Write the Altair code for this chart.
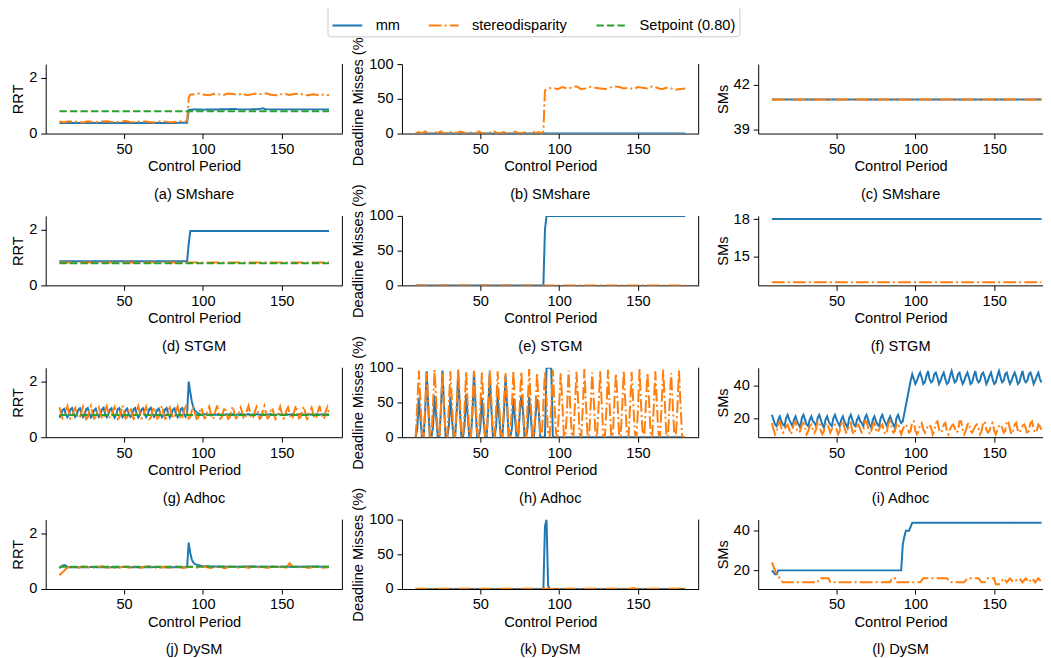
import altair as alt
import pandas as pd

FONT = "Liberation Sans"
FS = 14.7

SERIES = ["mm", "stereodisparity", "Setpoint (0.80)"]
COLORS = ["#1f77b4", "#ff7f0e", "#2ca02c"]
DASHES = [[1, 0], [12.8, 3.2, 2, 3.2], [7.4, 3.2]]

X_TICKS = [50, 100, 150]
XF = list(range(9, 181))  # control periods 9..180

# ---------------- (a) SMshare RRT ----------------
a_mm_x = [9, 20, 30, 40, 50, 60, 70, 80, 90, 91, 95, 100, 110, 118, 120, 122, 130, 136, 138, 140, 150, 160, 170, 180]
a_mm_y = [0.38, 0.38, 0.38, 0.38, 0.38, 0.38, 0.38, 0.38, 0.39, 0.85, 0.87, 0.86, 0.87, 0.88, 0.89, 0.87, 0.87, 0.88, 0.91, 0.87, 0.87, 0.87, 0.87, 0.87]
a_sd_x = [9, 12, 15, 18, 21, 24, 27, 30, 33, 36, 39, 42, 45, 48, 51, 54, 57, 60, 63, 66, 69, 72, 75, 78, 81, 84, 87, 90,
          91, 92,
          95, 98, 101, 104, 107, 110, 113, 116, 119, 122, 125, 128, 131, 134, 137, 140, 143, 146, 149, 152, 155, 158, 161, 164, 167, 170, 173, 176, 180]
a_sd_y = [0.43, 0.41, 0.44, 0.42, 0.43, 0.40, 0.44, 0.42, 0.41, 0.43, 0.44, 0.42, 0.41, 0.43, 0.45, 0.42, 0.41, 0.44, 0.43, 0.42, 0.40, 0.43, 0.44, 0.42, 0.41, 0.43, 0.45, 0.44,
          1.30, 1.40,
          1.42, 1.44, 1.40, 1.38, 1.43, 1.41, 1.39, 1.44, 1.42, 1.40, 1.43, 1.38, 1.41, 1.44, 1.42, 1.45, 1.40, 1.38, 1.41, 1.43, 1.39, 1.42, 1.44, 1.40, 1.38, 1.41, 1.39, 1.40, 1.38]
SET_X = [9, 180]
SET_Y = [0.80, 0.80]

# ---------------- (b) SMshare deadline misses ----------------
b_mm_x = [9, 180]
b_mm_y = [0, 0]
b_sd_x = [9, 11, 13, 15, 17, 19, 21, 23, 25, 27, 29, 31, 33, 35, 37, 39, 41, 43, 45, 47, 49, 51, 53, 55, 57, 59, 61, 63, 65, 67, 69, 71, 73, 75, 77, 79, 81, 83, 85, 87, 89,
          90, 91, 93,
          96, 99, 102, 105, 108, 111, 114, 117, 120, 123, 126, 129, 132, 135, 138, 141, 144, 147, 150, 153, 156, 159, 162, 165, 168, 171, 174, 177, 180]
b_sd_y = [1, 2, 0, 3, 1, 0, 2, 1, 3, 0, 1, 2, 0, 1, 3, 2, 0, 1, 2, 0, 3, 1, 0, 2, 1, 3, 0, 1, 2, 0, 1, 3, 2, 0, 1, 2, 0, 3, 1, 2, 0,
          3, 62, 65,
          66, 64, 67, 65, 66, 68, 64, 65, 67, 66, 65, 64, 66, 68, 67, 65, 66, 64, 67, 66, 65, 68, 66, 64, 66, 65, 63, 64, 65]

# ---------------- (c) SMshare SMs ----------------
c_mm_x = [9, 180]
c_mm_y = [41, 41]
c_sd_x = [9, 180]
c_sd_y = [41, 41]

# ---------------- (d) STGM RRT ----------------
d_mm_x = [9, 90, 91, 92, 180]
d_mm_y = [0.87, 0.87, 1.50, 1.96, 1.96]
d_sd_x = [9, 180]
d_sd_y = [0.82, 0.82]

# ---------------- (e) STGM deadline misses ----------------
e_mm_x = [9, 90, 91, 92, 180]
e_mm_y = [0, 0, 80, 100, 100]
e_sd_x = [9, 180]
e_sd_y = [0, 0]

# ---------------- (f) STGM SMs ----------------
f_mm_x = [9, 180]
f_mm_y = [18, 18]
f_sd_x = [9, 180]
f_sd_y = [13, 13]

# ---------------- (g) Adhoc RRT (x = 9..180) ----------------
g_mm_y = [
    0.70, 0.80, 0.98, 1.02, 0.85,
    0.72, 0.80, 1.00, 1.05, 0.86,
    0.73, 0.82, 0.99, 1.04, 0.84,
    0.72, 0.81, 1.01, 1.05, 0.85,
    0.71, 0.80, 0.97, 1.03, 0.86,
    0.73, 0.82, 1.00, 1.06, 0.84,
    0.72, 0.81, 0.99, 1.04, 0.85,
    0.70, 0.80, 1.01, 1.05, 0.86,
    0.72, 0.82, 0.98, 1.03, 0.84,
    0.73, 0.81, 1.00, 1.05, 0.85,
    0.71, 0.80, 0.99, 1.04, 0.86,
    0.72, 0.82, 1.01, 1.06, 0.84,
    0.73, 0.81, 0.98, 1.03, 0.85,
    0.72, 0.80, 1.00, 1.05, 0.86,
    0.71, 0.82, 0.99, 1.04, 0.84,
    0.72, 0.81, 1.01, 1.05, 0.85,
    0.74, 0.86,
    2.00, 1.62, 1.28, 1.06, 0.95, 0.90, 0.86,
    0.83, 0.82, 0.81, 0.83, 0.82, 0.80, 0.82, 0.83, 0.81, 0.82,
    0.80, 0.82, 0.83, 0.81, 0.82, 0.82, 0.80, 0.83, 0.82, 0.81,
    0.82, 0.83, 0.81, 0.80, 0.82, 0.82, 0.83, 0.81, 0.82, 0.80,
    0.82, 0.83, 0.81, 0.82, 0.82, 0.80, 0.83, 0.82, 0.81, 0.82,
    0.83, 0.81, 0.80, 0.82, 0.82, 0.83, 0.81, 0.82, 0.80, 0.82,
    0.83, 0.81, 0.82, 0.82, 0.80, 0.83, 0.82, 0.81, 0.82, 0.83,
    0.81, 0.80, 0.82, 0.82, 0.83, 0.81, 0.82, 0.80, 0.82, 0.83,
    0.81, 0.82, 0.82, 0.80, 0.83, 0.82, 0.81, 0.82, 0.83, 0.81,
    0.82, 0.82, 0.83,
]
g_sd_y = [
    1.08, 0.86, 0.67, 0.72, 0.95,
    1.12, 0.88, 0.66, 0.70, 0.96,
    1.05, 0.84, 0.68, 0.73, 0.93,
    1.10, 0.87, 0.65, 0.71, 0.97,
    1.13, 0.85, 0.67, 0.72, 0.94,
    1.07, 0.88, 0.66, 0.70, 0.95,
    1.11, 0.86, 0.68, 0.73, 0.96,
    1.09, 0.84, 0.65, 0.71, 0.93,
    1.14, 0.87, 0.67, 0.72, 0.97,
    1.06, 0.85, 0.66, 0.70, 0.94,
    1.12, 0.88, 0.68, 0.73, 0.95,
    1.10, 0.86, 0.65, 0.71, 0.96,
    1.08, 0.84, 0.67, 0.72, 0.93,
    1.13, 0.87, 0.66, 0.70, 0.97,
    1.07, 0.85, 0.68, 0.73, 0.94,
    1.11, 0.88, 0.65, 0.71, 0.95,
    1.09, 0.86, 0.67, 0.72, 0.96,
    1.12, 0.84, 0.66, 0.70, 0.93,
    1.06, 0.87, 0.68, 0.73, 0.97,
    1.10, 0.85, 0.65, 0.71, 0.94,
    1.14, 0.88, 0.67, 0.72, 0.95,
    1.08, 0.86, 0.66, 0.70, 0.96,
    1.11, 0.84, 0.68, 0.73, 0.93,
    1.07, 0.87, 0.65, 0.71, 0.97,
    1.13, 0.85, 0.67, 0.72, 0.94,
    1.09, 0.88, 0.66, 0.70, 0.95,
    1.12, 0.86, 0.68, 0.73, 0.96,
    1.06, 0.84, 0.65, 0.71, 0.93,
    1.10, 0.87, 0.67, 0.72, 0.97,
    1.08, 0.85, 0.66, 0.70, 0.94,
    1.14, 0.88, 0.68, 0.73, 0.95,
    1.11, 0.86, 0.65, 0.71, 0.96,
    1.07, 0.84, 0.67, 0.72, 0.93,
    1.13, 0.87, 0.66, 0.70, 0.97,
    1.09, 0.85,
]

# ---------------- (h) Adhoc deadline misses (x = 9..180) ----------------
h_mm_y = [
    0, 12, 57, 28, 0,
    0, 35, 95, 42, 0,
    0, 15, 60, 30, 0,
    0, 38, 96, 45, 0,
    0, 14, 58, 27, 0,
    0, 36, 94, 40, 0,
    0, 16, 62, 31, 0,
    0, 34, 95, 43, 0,
    0, 13, 57, 26, 0,
    0, 37, 93, 41, 0,
    0, 15, 60, 29, 0,
    0, 35, 88, 44, 0,
    0, 12, 56, 27, 0,
    0, 33, 60, 40, 0,
    0, 14, 58, 30, 0,
    0, 30, 55, 42, 0,
    0, 0,
    0, 100, 100, 100, 100,
    0, 0, 0, 0, 0, 0, 0, 0, 0, 0, 0, 0, 0, 0, 0, 0, 0, 0, 0, 0, 0, 0, 0, 0, 0,
    0, 0, 0, 0, 0, 0, 0, 0, 0, 0, 0, 0, 0, 0, 0, 0, 0, 0, 0, 0, 0, 0, 0, 0, 0,
    0, 0, 0, 0, 0, 0, 0, 0, 0, 0, 0, 0, 0, 0, 0, 0, 0, 0, 0, 0, 0, 0, 0, 0, 0,
    0, 0, 0, 0, 0, 0, 0, 0, 0, 0,
]
h_sd_y = [
    0, 45, 96, 52, 5,
    0, 42, 93, 48, 3,
    0, 47, 97, 55, 6,
    0, 40, 92, 46, 2,
    0, 44, 95, 50, 4,
    0, 46, 98, 53, 5,
    0, 41, 94, 47, 3,
    0, 48, 96, 54, 6,
    0, 43, 93, 49, 2,
    0, 45, 97, 51, 4,
    0, 40, 95, 46, 5,
    0, 47, 92, 55, 3,
    0, 42, 96, 48, 6,
    0, 46, 94, 52, 2,
    0, 44, 98, 50, 4,
    0, 41, 93, 47, 5,
    0, 48, 95, 53, 3,
    0, 43, 97, 49, 6,
    0, 45, 92, 51, 2,
    0, 40, 96, 46, 4,
    0, 47, 94, 55, 5,
    0, 42, 98, 48, 3,
    0, 46, 93, 52, 6,
    0, 44, 95, 50, 2,
    0, 41, 97, 47, 4,
    0, 48, 92, 54, 5,
    0, 43, 96, 49, 3,
    0, 45, 94, 51, 6,
    0, 40, 98, 46, 2,
    0, 47, 93, 55, 4,
    0, 42, 95, 48, 5,
    0, 46, 97, 52, 3,
    0, 44, 92, 50, 6,
    0, 41, 96, 47, 2,
    0, 0,
]

# ---------------- (i) Adhoc SMs (x = 9..180) ----------------
i_mm_y = [
    22, 19, 16, 15, 19,
    21, 18, 16, 15, 20,
    22, 19, 17, 15, 19,
    21, 18, 16, 14, 20,
    22, 19, 16, 15, 19,
    21, 18, 17, 15, 20,
    22, 19, 16, 14, 19,
    21, 18, 16, 15, 20,
    22, 19, 17, 15, 19,
    21, 18, 16, 14, 20,
    22, 19, 16, 15, 19,
    21, 18, 17, 15, 20,
    22, 19, 16, 14, 19,
    21, 18, 16, 15, 20,
    22, 19, 17, 15, 19,
    21, 18, 16, 14, 20,
    22, 19, 17,
    18, 23, 28, 33, 38, 43, 47,
    44, 41, 43, 46, 48,
    45, 41, 42, 46, 49,
    44, 42, 43, 47, 48,
    45, 41, 43, 46, 48,
    44, 41, 42, 46, 49,
    45, 42, 43, 47, 48,
    44, 41, 43, 46, 48,
    45, 41, 42, 46, 49,
    44, 42, 43, 47, 48,
    45, 41, 43, 46, 48,
    44, 41, 42, 46, 49,
    45, 42, 43, 47, 48,
    44, 41, 43, 46, 48,
    45, 41, 42, 46, 49,
    44, 42, 43, 47, 48,
    45, 41, 43, 46, 48,
    44, 42,
]
i_sd_y = [
    17, 13, 10, 12, 16,
    18, 14, 11, 12, 15,
    16, 13, 10, 13, 17,
    18, 12, 11, 12, 16,
    17, 14, 10, 12, 15,
    16, 13, 11, 13, 18,
    18, 12, 10, 12, 16,
    17, 14, 11, 13, 15,
    16, 13, 10, 12, 17,
    18, 14, 11, 12, 16,
    17, 12, 10, 13, 15,
    16, 13, 11, 12, 18,
    18, 14, 10, 12, 16,
    17, 13, 11, 13, 15,
    16, 12, 10, 12, 17,
    18, 14, 11, 12, 16,
    17, 13, 10, 13, 15,
    16, 14, 11, 12, 18,
    18, 12, 10, 12, 16,
    17, 13, 11, 13, 15,
    16, 14, 10, 12, 17,
    18, 13, 11, 12, 16,
    17, 12, 10, 13, 15,
    16, 14, 11, 12, 18,
    18, 13, 10, 12, 16,
    17, 12, 11, 13, 15,
    16, 14, 10, 12, 17,
    18, 13, 11, 12, 16,
    17, 12, 10, 13, 15,
    16, 14, 11, 12, 18,
    18, 13, 10, 12, 16,
    17, 12, 11, 13, 15,
    16, 14, 10, 12, 17,
    18, 13, 11, 12, 16,
    15, 12,
]

# ---------------- (j) DySM RRT ----------------
j_mm_x = [9, 10, 11, 12, 13, 14, 15, 20, 30, 40, 50, 60, 70, 80, 88, 89, 90,
          91, 92, 93, 94, 95, 96, 97, 98, 100, 110, 120, 130, 140, 150, 160, 170, 180]
j_mm_y = [0.75, 0.80, 0.84, 0.86, 0.84, 0.80, 0.78, 0.78, 0.79, 0.78, 0.79, 0.78, 0.79, 0.78, 0.78, 0.78, 0.80,
          1.67, 1.30, 1.05, 0.95, 0.90, 0.88, 0.86, 0.85, 0.82, 0.81, 0.80, 0.81, 0.80, 0.80, 0.80, 0.81, 0.80]
j_sd_x = [9, 11, 13, 15, 18, 21, 24, 27, 30, 33, 36, 39, 42, 45, 48, 51, 54, 57, 60, 63, 66, 69, 72, 75, 78, 81, 84, 87, 90,
          93, 96, 99, 102, 105, 108, 111, 114, 117, 120, 123, 126, 129, 132, 135, 138, 141, 144, 147, 150, 153,
          155, 156, 158, 161, 164, 167, 170, 173, 176, 180]
j_sd_y = [0.50, 0.60, 0.72, 0.80,
          0.79, 0.77, 0.81, 0.78, 0.76, 0.80, 0.82, 0.77, 0.79, 0.75,
          0.78, 0.81, 0.77, 0.80, 0.76, 0.79, 0.82, 0.78, 0.75, 0.80,
          0.77, 0.79, 0.81, 0.76, 0.78, 0.80, 0.77, 0.82, 0.79, 0.76,
          0.80, 0.78, 0.75, 0.81, 0.79, 0.77, 0.80, 0.76, 0.82, 0.78,
          0.79, 0.76, 0.81, 0.78, 0.80, 0.77,
          0.93, 0.86, 0.80, 0.77, 0.80, 0.76, 0.79, 0.81, 0.77, 0.78]

# ---------------- (k) DySM deadline misses ----------------
k_mm_x = [9, 90, 91, 92, 93, 94, 180]
k_mm_y = [0, 0, 90, 100, 5, 0, 0]
k_sd_x = [9, 145, 147, 149, 175, 178, 180]
k_sd_y = [0.5, 0.5, 1.5, 0.5, 0.5, 1.5, 0.5]

# ---------------- (l) DySM SMs ----------------
l_mm_x = [9, 10, 11, 12, 13, 90, 91, 92, 93, 94, 95, 96, 97, 98, 180]
l_mm_y = [20, 19, 18, 18, 20, 20, 20, 33, 37, 40, 40, 40, 42, 44, 44]
l_sd_x = [9, 10, 11, 12, 13, 14, 15, 16, 38, 39, 45, 46, 84, 85, 87, 88, 103, 105, 120, 122, 131, 133, 140, 142,
          144, 146, 150, 151, 153, 154, 156, 158, 160, 162, 164, 166, 168, 170, 172, 174, 176, 178, 180]
l_sd_y = [24, 22, 20, 18, 17, 16, 15, 14, 14, 16, 16, 14, 14, 16, 16, 14, 14, 16, 16, 14, 14, 16, 16, 14,
          14, 16, 16, 13, 13, 14, 16, 14, 16, 14, 15, 16, 14, 16, 14, 16, 14, 16, 14]

RRT = ("RRT", [0, 2.5], [0, 2])
DM = ("Deadline Misses (%)", [0, 100], [0, 50, 100])

PANELS = [
    ("(a) SMshare", RRT, [("mm", a_mm_x, a_mm_y), ("stereodisparity", a_sd_x, a_sd_y), ("Setpoint (0.80)", SET_X, SET_Y)]),
    ("(b) SMshare", DM, [("mm", b_mm_x, b_mm_y), ("stereodisparity", b_sd_x, b_sd_y)]),
    ("(c) SMshare", ("SMs", [38.7, 43.4], [39, 42]), [("mm", c_mm_x, c_mm_y), ("stereodisparity", c_sd_x, c_sd_y)]),
    ("(d) STGM", RRT, [("mm", d_mm_x, d_mm_y), ("stereodisparity", d_sd_x, d_sd_y), ("Setpoint (0.80)", SET_X, SET_Y)]),
    ("(e) STGM", DM, [("mm", e_mm_x, e_mm_y), ("stereodisparity", e_sd_x, e_sd_y)]),
    ("(f) STGM", ("SMs", [12.75, 18.25], [15, 18]), [("mm", f_mm_x, f_mm_y), ("stereodisparity", f_sd_x, f_sd_y)]),
    ("(g) Adhoc", RRT, [("mm", XF, g_mm_y), ("stereodisparity", XF, g_sd_y), ("Setpoint (0.80)", SET_X, SET_Y)]),
    ("(h) Adhoc", DM, [("mm", XF, h_mm_y), ("stereodisparity", XF, h_sd_y)]),
    ("(i) Adhoc", ("SMs", [8.2, 51], [20, 40]), [("mm", XF, i_mm_y), ("stereodisparity", XF, i_sd_y)]),
    ("(j) DySM", RRT, [("mm", j_mm_x, j_mm_y), ("stereodisparity", j_sd_x, j_sd_y), ("Setpoint (0.80)", SET_X, SET_Y)]),
    ("(k) DySM", DM, [("mm", k_mm_x, k_mm_y), ("stereodisparity", k_sd_x, k_sd_y)]),
    ("(l) DySM", ("SMs", [10.6, 45.6], [20, 40]), [("mm", l_mm_x, l_mm_y), ("stereodisparity", l_sd_x, l_sd_y)]),
]

PW = 299
PH = 70
PX_PER_UNIT = PW / (188.5 - 0.3)

LEGEND = alt.Legend(
    orient="none", legendX=284, legendY=-59, direction="horizontal", columns=3,
    title=None, symbolType="stroke", symbolSize=900, symbolStrokeWidth=2,
    labelFont=FONT, labelFontSize=FS, labelColor="black", labelOffset=12.5,
    columnPadding=25, strokeColor="#cccccc", fillColor="white", padding=4, cornerRadius=3,
)


def make_panel(idx, caption, yinfo, series):
    col = idx % 3
    width = PW if col < 2 else 287
    xmax = 0.3 + width / PX_PER_UNIT
    ytitle, ydom, yticks = yinfo
    layers = []
    for name, xs, ys in series:
        if len(xs) != len(ys):
            raise ValueError(f"{caption} {name}: {len(xs)} x vs {len(ys)} y")
        df = pd.DataFrame({"x": xs, "y": ys, "series": name})
        layers.append(
            alt.Chart(df).mark_line(strokeWidth=2, clip=True).encode(
                x=alt.X("x:Q", scale=alt.Scale(domain=[0.3, xmax], nice=False, zero=False),
                        axis=alt.Axis(values=X_TICKS, title="Control Period")),
                y=alt.Y("y:Q", scale=alt.Scale(domain=ydom, nice=False, zero=False),
                        axis=alt.Axis(values=yticks, title=ytitle)),
                color=alt.Color("series:N", scale=alt.Scale(domain=SERIES, range=COLORS), legend=LEGEND),
                strokeDash=alt.StrokeDash("series:N", scale=alt.Scale(domain=SERIES, range=DASHES), legend=LEGEND),
            )
        )
    if col < 2:
        spine = alt.Chart(pd.DataFrame({"s": [0]})).mark_rule(color="black", strokeWidth=1).encode(
            x=alt.value(width), y=alt.value(0), y2=alt.value(PH)
        )
        layers.append(spine)
    return alt.layer(*layers).properties(
        width=width, height=PH,
        title=alt.TitleParams(caption, orient="bottom", offset=13.5, font=FONT, fontSize=FS,
                              fontWeight="normal", color="black", anchor="middle"),
    )


charts = [make_panel(i, cap, yinfo, ser) for i, (cap, yinfo, ser) in enumerate(PANELS)]

chart = alt.concat(
    *charts, columns=3, spacing={"row": 83, "column": 60}, bounds="flush"
).resolve_scale(
    x="independent", y="independent", color="shared", strokeDash="shared"
).properties(
    padding={"left": 2, "top": -6, "right": 0, "bottom": 0}
).configure_view(
    stroke=None
).configure_axis(
    domainColor="black", tickColor="black", labelColor="black", titleColor="black",
    grid=False, labelFont=FONT, titleFont=FONT, labelFontSize=FS, titleFontSize=FS,
    titleFontWeight="normal", tickSize=5, domainWidth=1, tickWidth=1, labelFlush=False,
).configure_axisY(
    labelPadding=4, titlePadding=3
).configure_axisX(
    labelPadding=3, titlePadding=3
)

chart.save("out.html", embed_options={"renderer": "svg", "actions": False})
